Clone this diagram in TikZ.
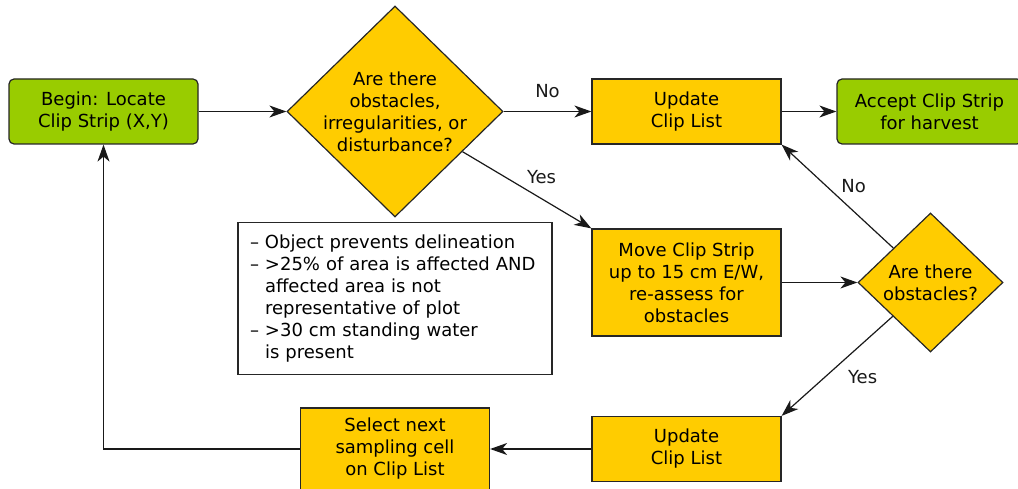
\documentclass[tikz,border=0pt]{standalone}
\usepackage{fontspec}
\setmainfont{DejaVu Sans}
\usetikzlibrary{shapes.geometric, arrows.meta, positioning}
\definecolor{clipyellow}{HTML}{FFCC00}
\definecolor{clipgreen}{HTML}{99CC00}
\tikzset{
  stepbox/.style = {rectangle, draw=black!85, fill=clipyellow, line width=1.2pt,
    minimum width=189pt, minimum height=65pt, align=center},
  endbox/.style = {stepbox, fill=clipgreen, rounded corners=5pt},
  decision/.style = {diamond, draw=black!85, fill=clipyellow, line width=1.2pt,
    inner sep=-8pt, align=center},
  notebox/.style = {rectangle, draw=black!85, line width=1.2pt, align=left,
    text width=290pt, inner sep=12pt, minimum height=149pt},
  flow/.style = {-{Stealth[length=17pt, width=12pt, inset=5pt]}, line width=1.2pt, black!90},
}

\begin{document}
\begin{tikzpicture} [node distance = 291.5pt, on grid, auto, font=\fontsize{18}{22}\selectfont]
    \useasboundingbox (0,0) rectangle (1018pt,-489pt);

    \node (begin) [endbox] at (103.5pt,-111.5pt) {Begin: Locate\\Clip Strip (X,Y)};
    \node (q1) [decision, minimum width=216pt, minimum height=211pt, right = of begin]
        {Are there\\obstacles,\\irregularities, or\\disturbance?};
    \node (upd) [stepbox, right = of q1] {Update\\Clip List};
    \node (accept) [endbox, minimum width=185pt, right = 243pt of upd] {Accept Clip Strip\\for harvest};
    \node (move) [stepbox, minimum height=107pt, below = 171pt of upd]
        {Move Clip Strip\\up to 15 cm E/W,\\re-assess for\\obstacles};
    \node (q2) [decision, inner sep=0pt, minimum width=145pt, minimum height=139pt, right = 244pt of move]
        {Are there\\obstacles?};
    \node (updb) [stepbox, below = 166.5pt of move] {Update\\Clip List};
    \node (select) [stepbox, minimum height=82pt, left = of updb] {Select next\\sampling cell\\on Clip List};
    \node (note) [notebox, below = 187pt of q1]
        {– Object prevents delineation\\– >25\% of area is affected AND\\\phantom{– }affected area is not\\\phantom{– }representative of plot\\– >30 cm standing water\\\phantom{– }is present};

    \draw [flow] (begin) -- (q1);
    \draw [flow] (q1) -- node [above=10pt] {No} (upd);
    \draw [flow] (upd) -- (accept);
    \draw [flow] (q1) -- node [pos=0.47] {Yes} (move.north west);
    \draw [flow] (move) -- (q2);
    \draw [flow] (q2) -- node [swap] {No} (upd.south east);
    \draw [flow] (q2) -- node [xshift=7pt] {Yes} (updb.north east);
    \draw [flow] (updb) -- (select);
    \draw [flow] (select) -| (begin);
\end{tikzpicture}
\end{document}
